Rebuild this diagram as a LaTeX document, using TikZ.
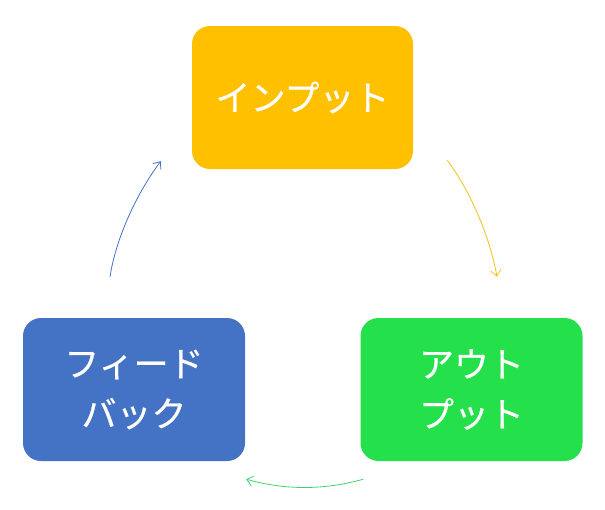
\documentclass[tikz,border=0pt]{standalone}
\usepackage{fontspec}
\newfontfamily\jp[FakeBold=0.6]{Noto Sans CJK JP}
\usetikzlibrary{arrows.meta,calc}
\definecolor{cOrange}{HTML}{FFC000}
\definecolor{cGreen}{HTML}{23E04B}
\definecolor{cBlue}{HTML}{4472C4}
\definecolor{aOrange}{HTML}{F2C21A}
\definecolor{aGreen}{HTML}{3ED46A}
\definecolor{aBlue}{HTML}{4472C4}
\tikzset{
  boxnode/.style={rounded corners=18pt, inner sep=0pt, minimum width=222pt, minimum height=143pt,
    align=center, text=white, font=\jp\fontsize{35}{50}\selectfont},
  flowarrow/.style={line width=0.8pt, -{Straight Barb[length=6pt,width=10pt]}}
}
\begin{document}
\begin{tikzpicture}[x=1pt,y=-1pt]
\useasboundingbox (0,0) rectangle (605,509);
\node[boxnode, fill=cOrange, minimum width=221pt] (in) at (302.5,97.5) {インプット};
\node[boxnode, fill=cGreen] (out) at (471.5,389.5) {アウト\\プット};
\node[boxnode, fill=cBlue] (fb) at (134,389.5) {フィード\\バック};
\coordinate (a1) at ($(in.south east)+(34,-9)$);
\coordinate (a2) at ($(out.north)+(25.5,-41)$);
\coordinate (a3) at ($(out.south west)+(3,18)$);
\coordinate (a4) at ($(fb.south east)+(1,18)$);
\coordinate (a5) at ($(fb.north)+(-24,-41)$);
\coordinate (a6) at ($(in.south west)+(-31,-8)$);
\draw[flowarrow, aOrange] (a1) .. controls +(24,32) and +(-7,-39) .. (a2);
\draw[flowarrow, aGreen] (a3) .. controls +(-39,11) and +(39,11) .. (a4);
\draw[flowarrow, aBlue] (a5) .. controls +(6,-39) and +(-24,32) .. (a6);
\end{tikzpicture}
\end{document}
